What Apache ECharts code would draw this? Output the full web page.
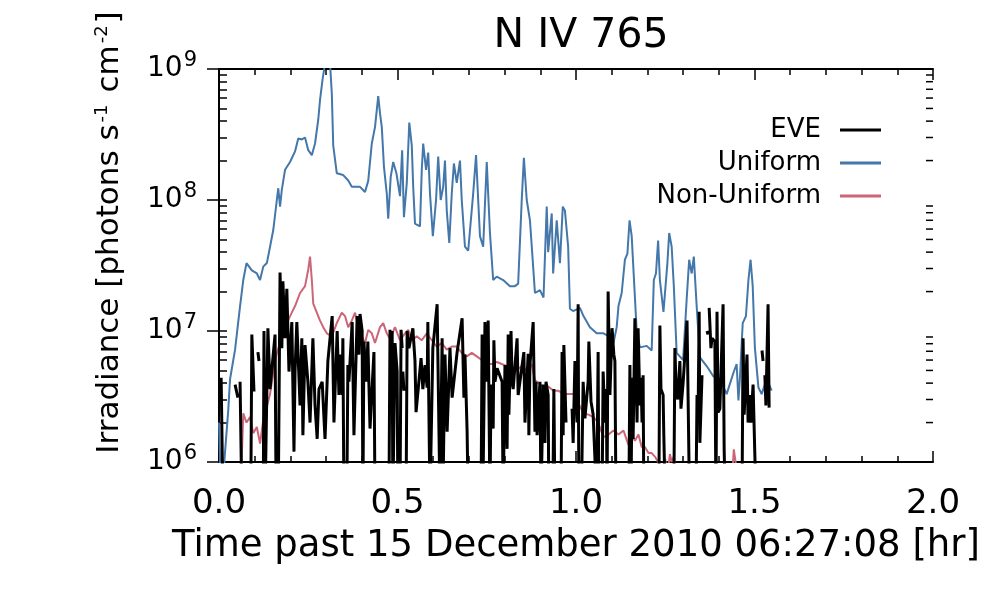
<!DOCTYPE html>
<html>
<head>
<meta charset="utf-8">
<script src="https://cdn.jsdelivr.net/npm/echarts@6/dist/echarts.min.js"></script>
<style>
	html, body { margin: 0; padding: 0; background: #fff; }
	#chart { width: 1000px; height: 600px; }
</style>
</head>
<body>
<div id="chart"></div>
<script>
// values: [hour, irradiance]
// below 1e6 = under the axis floor, null = missing sample
const uniformData = [
	[0.000, 2.0e6], [0.004, 8e5], [0.012, 8e5], [0.026, 2.5e6], [0.031, 4.3e6], [0.045, 7.2e6],
	[0.059, 1.55e7], [0.068, 2.45e7], [0.077, 3.3e7], [0.092, 2.9e7], [0.106, 2.75e7], [0.115, 2.45e7],
	[0.124, 3.1e7], [0.134, 3.3e7], [0.143, 4.4e7], [0.152, 5.9e7], [0.162, 1.0e8], [0.166, 1.23e8],
	[0.171, 8.9e7], [0.176, 1.2e8], [0.185, 1.7e8], [0.199, 1.95e8], [0.213, 2.35e8], [0.222, 2.95e8],
	[0.232, 2.9e8], [0.241, 3.0e8], [0.250, 2.4e8], [0.260, 2.2e8], [0.269, 2.7e8], [0.278, 4.1e8],
	[0.283, 5.8e8], [0.290, 8.3e8], [0.297, 1.1e9], [0.311, 1.1e9], [0.316, 6.5e8], [0.320, 2.6e8],
	[0.330, 1.6e8], [0.348, 1.55e8], [0.362, 1.41e8], [0.372, 1.26e8], [0.395, 1.26e8], [0.409, 1.15e8],
	[0.418, 1.4e8], [0.428, 2.7e8], [0.437, 3.6e8], [0.446, 6.2e8], [0.451, 4.6e8], [0.456, 3.6e8],
	[0.462, 1.8e8], [0.470, 1.12e8], [0.474, 7.2e7], [0.481, 1.5e8], [0.488, 1.95e8], [0.497, 1.6e8],
	[0.507, 1.07e8], [0.513, 2.4e8], [0.518, 7.4e7], [0.526, 1.35e8], [0.533, 3.9e8], [0.540, 2.6e8],
	[0.544, 1.26e8], [0.549, 6.6e7], [0.563, 6.3e7], [0.568, 1.7e8], [0.572, 2.7e8], [0.580, 1.7e8],
	[0.586, 2.3e8], [0.591, 1.12e8], [0.599, 5.3e7], [0.608, 1.0e8], [0.614, 2.15e8], [0.621, 1.0e8],
	[0.628, 1.26e8], [0.633, 2.0e8], [0.638, 8.3e7], [0.645, 4.7e7], [0.652, 1.12e8], [0.658, 1.9e8],
	[0.666, 1.35e8], [0.675, 2.0e8], [0.680, 1.0e8], [0.689, 4.4e7], [0.698, 4.1e7], [0.712, 1.12e8],
	[0.720, 2.2e8], [0.726, 1.0e8], [0.731, 5.3e7], [0.740, 4.4e7], [0.750, 1.95e8], [0.759, 5.6e7],
	[0.768, 2.45e7], [0.778, 2.6e7], [0.796, 2.45e7], [0.815, 2.2e7], [0.829, 2.2e7], [0.838, 2.3e7],
	[0.848, 1.0e8], [0.854, 2.1e8], [0.862, 1.0e8], [0.871, 7.0e7], [0.880, 3.1e7], [0.885, 1.95e7],
	[0.899, 2.05e7], [0.909, 1.8e7], [0.918, 8.9e7], [0.922, 4.0e7], [0.932, 7.9e7], [0.936, 2.75e7],
	[0.946, 7.0e7], [0.955, 3.3e7], [0.963, 8.9e7], [0.969, 8.3e7], [0.978, 4.4e7], [0.983, 1.48e7],
	[0.992, 1.42e7], [1.011, 1.5e7], [1.021, 1.3e7], [1.039, 1.07e7], [1.058, 9.6e6], [1.077, 9.6e6],
	[1.095, 9.0e6], [1.105, 8.1e6], [1.114, 1.07e7], [1.119, 1.55e7], [1.128, 1.95e7], [1.137, 3.5e7],
	[1.144, 3.9e7], [1.150, 7.0e7], [1.156, 5.3e7], [1.163, 2.3e7], [1.170, 1.0e7], [1.179, 7.5e6],
	[1.198, 7.7e6], [1.212, 7.1e6], [1.218, 2.45e7], [1.224, 2.75e7], [1.230, 4.9e7], [1.235, 2.45e7],
	[1.245, 1.4e7], [1.256, 3.3e7], [1.261, 5.6e7], [1.268, 4.4e7], [1.274, 2.2e7], [1.282, 6.8e6],
	[1.300, 6.0e6], [1.310, 1.75e7], [1.317, 3.5e7], [1.324, 2.75e7], [1.330, 3.7e7], [1.338, 1.55e7],
	[1.347, 6.3e6], [1.366, 5.4e6], [1.385, 4.5e6], [1.403, 4.3e6], [1.422, 3.3e6], [1.441, 4.8e6],
	[1.450, 5.6e6], [1.455, 2.95e6], [1.459, 4.3e6], [1.467, 1.15e7], [1.476, 1.3e7], [1.483, 2.45e7],
	[1.489, 3.5e7], [1.495, 2.2e7], [1.501, 7.5e6], [1.511, 3.7e6], [1.520, 3.3e6], [1.534, 4.3e6],
	[1.548, 3.5e6]
];

const nonUniformData = [
	[0.062, 8e5], [0.068, 2.35e6], [0.077, 2.0e6], [0.087, 2.2e6], [0.096, 1.66e6], [0.106, 1.85e6],
	[0.115, 1.38e6], [0.124, 2.1e6], [0.134, 2.65e6], [0.143, 3.3e6], [0.152, 4.8e6], [0.162, 6.8e6],
	[0.171, 8.1e6], [0.180, 1.15e7], [0.190, 1.15e7], [0.199, 1.3e7], [0.213, 1.55e7], [0.227, 1.95e7],
	[0.241, 2.2e7], [0.250, 2.95e7], [0.255, 3.7e7], [0.260, 2.45e7], [0.264, 1.62e7], [0.274, 1.38e7],
	[0.283, 1.2e7], [0.292, 1.07e7], [0.302, 9.6e6], [0.316, 9.1e6], [0.330, 1.15e7], [0.344, 1.38e7],
	[0.353, 1.3e7], [0.362, 1.07e7], [0.372, 1.2e7], [0.381, 1.38e7], [0.390, 1.07e7], [0.400, 9.1e6],
	[0.409, 8.1e6], [0.418, 1.02e7], [0.428, 9.6e6], [0.437, 8.1e6], [0.451, 1.07e7], [0.460, 1.15e7],
	[0.470, 9.6e6], [0.479, 8.7e6], [0.493, 1.07e7], [0.507, 8.5e6], [0.521, 9.6e6], [0.530, 1.02e7],
	[0.540, 8.5e6], [0.554, 9.1e6], [0.568, 8.5e6], [0.582, 9.6e6], [0.596, 8.5e6], [0.610, 7.6e6],
	[0.624, 8.1e6], [0.638, 7.2e6], [0.652, 7.6e6], [0.666, 7.6e6], [0.680, 6.8e6], [0.694, 6.4e6],
	[0.708, 6.8e6], [0.722, 6.4e6], [0.736, 6.0e6], [0.750, 5.6e6], [0.764, 5.6e6], [0.778, 5.8e6],
	[0.792, 5.6e6], [0.806, 5.4e6], [0.820, 4.8e6], [0.834, 5.0e6], [0.848, 5.4e6], [0.862, 5.0e6],
	[0.876, 5.6e6], [0.885, 4.2e6], [0.895, 4.0e6], [0.908, 3.75e6], [0.923, 3.75e6], [0.937, 3.5e6],
	[0.951, 3.5e6], [0.965, 3.3e6], [0.979, 3.3e6], [0.993, 3.3e6], [1.007, 2.8e6], [1.021, 2.35e6],
	[1.035, 2.3e6], [1.049, 2.2e6], [1.062, 2.0e6], [1.077, 1.55e6], [1.091, 1.62e6], [1.105, 1.74e6],
	[1.119, 1.62e6], [1.133, 1.74e6], [1.147, 1.35e6], [1.156, 1.62e6], [1.165, 1.45e6], [1.175, 1.62e6],
	[1.184, 1.3e6], [1.193, 1.3e6], [1.203, 1.17e6], [1.212, 1.17e6], [1.221, 1.1e6], [1.230, 1.0e6],
	[1.240, 8e5], [1.250, 1.05e6], [1.256, 8e5], [1.263, 1.15e6], [1.268, 1.0e6], [1.274, 1.1e6],
	[1.280, 8e5], [1.300, 7e5], [1.350, 6e5], [1.420, 7e5], [1.438, 8e5], [1.442, 1.25e6],
	[1.447, 1.0e6], [1.452, 7e5], [1.500, 6e5]
];

const eveData = [
	[0.006, 4.4e6], [0.011, 5e5], [0.030, null], [0.045, 3.9e6], [0.053, 3.1e6], [0.056, null],
	[0.059, 4.1e6], [0.064, 5e5], [0.089, 5e5], [0.092, 9.4e6], [0.098, 3.45e6], [0.103, null],
	[0.109, 6.9e6], [0.112, 5.9e6], [0.116, null], [0.124, 5e5], [0.126, 1.0e7], [0.129, 5e5],
	[0.134, 5e5], [0.137, 1.05e7], [0.143, 3.6e6], [0.157, 9.4e6], [0.160, 5e5], [0.166, 5e5],
	[0.171, 2.8e7], [0.176, 7.4e6], [0.179, 2.4e7], [0.185, 8.8e6], [0.190, 2.1e7], [0.196, 4.9e6],
	[0.204, 1.17e7], [0.210, 1.2e6], [0.213, 4.9e6], [0.218, 1.17e7], [0.227, 2.7e6], [0.232, 8.8e6],
	[0.235, 1.6e6], [0.241, 7.8e6], [0.249, 4.1e6], [0.255, 2.0e6], [0.263, 8.8e6], [0.269, 2.7e6],
	[0.275, 1.5e6], [0.280, 3.6e6], [0.289, 4.1e6], [0.297, 1.5e6], [0.305, 5.9e6], [0.317, 1.3e7],
	[0.322, 2.0e6], [0.331, 1.0e7], [0.336, 3.25e6], [0.339, 6.6e6], [0.345, 3.25e6], [0.347, 8.8e6],
	[0.350, 5e5], [0.358, 5e5], [0.361, 5.5e6], [0.364, 4.1e6], [0.373, 1.17e7], [0.378, 1.6e6],
	[0.387, 1.3e7], [0.392, 6.6e6], [0.395, 1.35e7], [0.401, 1.0e7], [0.403, 5e5], [0.404, 5e5],
	[0.406, 8.3e6], [0.412, 4.1e6], [0.417, 8.3e6], [0.423, 1.8e6], [0.434, 6.9e6], [0.437, 5e5],
	[0.476, 5e5], [0.479, 1.02e7], [0.482, 4.1e6], [0.485, 1.0e7], [0.487, 5e5], [0.490, 5e5],
	[0.493, 8.1e6], [0.499, 4.9e6], [0.501, 5e5], [0.507, 5e5], [0.510, 1.02e7], [0.513, 7.4e6],
	[0.514, null], [0.515, 4.9e6], [0.518, 3.5e6], [0.520, null], [0.524, 5e5], [0.527, 1.0e7],
	[0.532, 7.4e6], [0.543, 1.05e7], [0.549, 5.9e6], [0.552, 2.4e6], [0.566, 6.2e6], [0.571, 3.6e6],
	[0.577, 5.5e6], [0.583, 3.7e6], [0.585, 1.17e7], [0.591, 5e5], [0.596, 5e5], [0.599, 7.4e6],
	[0.611, 1.6e7], [0.613, 6.6e6], [0.619, 5e5], [0.622, 5e5], [0.625, 8.8e6], [0.627, 5e5],
	[0.630, 5e5], [0.633, 6.6e6], [0.639, 1.7e6], [0.647, 7.4e6], [0.653, 3.1e6], [0.661, 4.9e6],
	[0.667, 6.9e6], [0.681, 1.25e7], [0.686, 3.1e6], [0.689, 6.6e6], [0.695, 1.7e6], [0.698, 5e5],
	[0.734, 5e5], [0.737, 9.4e6], [0.739, 5e5], [0.742, 5e5], [0.745, 1.17e7], [0.748, 4.1e6],
	[0.754, 1.2e7], [0.759, 5e5], [0.762, 3.9e6], [0.768, 1.8e6], [0.770, 8.5e6], [0.773, 4.1e6],
	[0.779, 5.2e6], [0.793, 4.1e6], [0.796, 5e5], [0.799, 5e5], [0.801, 5.5e6], [0.807, 1.26e6],
	[0.810, 9.4e6], [0.812, 2.3e6], [0.818, 1.0e7], [0.821, 4.1e6], [0.824, 3.6e6], [0.835, 8.8e6],
	[0.838, 3.25e6], [0.843, 3.25e6], [0.854, 6.9e6], [0.857, 2.0e6], [0.866, 6.7e6], [0.868, 1.6e6],
	[0.871, 5.5e6], [0.880, 1.17e7], [0.885, 1.7e6], [0.888, 4.1e6], [0.891, 1.6e6], [0.899, 4.1e6],
	[0.902, 5e5], [0.905, 5e5], [0.908, 3.9e6], [0.913, 1.4e6], [0.916, 4.1e6], [0.922, 3.25e6],
	[0.924, 5e5], [0.935, 5e5], [0.938, 3.6e6], [0.941, 5e5], [0.958, 5e5], [0.961, 6.9e6],
	[0.964, 1.6e6], [0.966, 7.8e6], [0.969, 7.8e6], [0.972, 2.0e6], [0.975, null], [0.978, 2.4e6],
	[0.980, null], [0.989, 2.55e6], [0.992, 1.4e6], [0.997, 5.9e6], [1.003, 2.0e6], [1.006, 1.6e7],
	[1.008, 5e5], [1.015, 5e5], [1.020, 4.1e6], [1.025, 2.15e6], [1.034, 4.1e6], [1.036, 8.3e6],
	[1.042, 2.9e6], [1.048, 2.3e6], [1.058, 5e5], [1.062, 6.9e6], [1.064, 5e5], [1.073, 5e5],
	[1.076, 4.9e6], [1.081, 2.0e6], [1.085, 3.6e6], [1.087, 5e5], [1.088, 5e5], [1.090, 2.0e7],
	[1.095, 3.25e6], [1.101, 1.05e7], [1.106, 6.6e6], [1.109, 5.9e6], [1.112, 5e5], [1.148, 5e5],
	[1.151, 5.5e6], [1.154, 5e5], [1.157, 4.4e6], [1.160, 1.5e6], [1.165, 1.25e7], [1.171, 2.0e6],
	[1.174, 1.05e7], [1.179, 2.7e6], [1.182, 4.4e6], [1.185, 2.0e6], [1.188, 4.6e6], [1.190, 5e5],
	[1.232, 5e5], [1.235, 1.1e7], [1.238, 3.6e6], [1.244, 3.25e6], [1.246, 1.6e6], [1.250, 5e5],
	[1.274, 5e5], [1.277, 7.4e6], [1.280, 4.1e6], [1.285, 3.0e6], [1.291, 5.9e6], [1.294, 2.55e6],
	[1.300, 4.0e6], [1.311, 1.2e7], [1.314, 3.1e6], [1.318, 5e5], [1.336, 5e5], [1.339, 3.25e6],
	[1.342, 2.3e6], [1.345, 1.4e7], [1.347, 1.4e6], [1.353, 4.6e6], [1.358, null], [1.367, 1.0e7],
	[1.370, 9.4e6], [1.371, null], [1.373, 1.5e7], [1.378, 7.4e6], [1.381, 8.8e6], [1.389, 8.3e6],
	[1.392, 5e5], [1.393, 5e5], [1.395, 1.4e7], [1.398, 2.4e6], [1.403, 2.55e6], [1.412, 1.6e7],
	[1.415, 1.26e6], [1.418, 5e5], [1.465, 5e5], [1.468, 8.8e6], [1.471, 2.3e6], [1.479, 6.6e6],
	[1.482, 2.0e6], [1.487, 3.25e6], [1.490, 2.0e6], [1.496, 3.9e6], [1.501, 1.12e6], [1.505, 5e5],
	[1.515, null], [1.521, 7.1e6], [1.524, 5.9e6], [1.526, null], [1.529, 4.6e6], [1.532, 2.7e6],
	[1.538, 1.6e7], [1.541, 2.6e6]
];

const seriesNames = ['EVE', 'Uniform', 'Non-Uniform'];
const seriesColors = ['#000000', '#4477aa', '#cc6677'];

const xMin = 0, xMax = 2.0, xStep = 0.5;
const yMin = 1e6, yMax = 1e9;
const yDecades = [1e6, 1e7, 1e8, 1e9];
const yMinorTicks = [
	2e6, 3e6, 4e6, 5e6, 6e6, 7e6, 8e6, 9e6,
	2e7, 3e7, 4e7, 5e7, 6e7, 7e7, 8e7, 9e7,
	2e8, 3e8, 4e8, 5e8, 6e8, 7e8, 8e8, 9e8
];

const FONT = '"DejaVu Sans", sans-serif';

let myChart = echarts.init(document.getElementById('chart'));

const axisLine = { show: true, lineStyle: { color: '#000', width: 2 } };
const tickStyle = { color: '#000', width: 1.5 };

// minor log ticks on the right frame edge
let rightMinorTicks = {
	type: 'custom',
	data: yMinorTicks.map(v => [xMax, v]),
	encode: { x: 0, y: 1 },
	renderItem: function(params, api) {
		let p = api.coord([api.value(0), api.value(1)]);
		return {
			type: 'line',
			shape: { x1: p[0], y1: p[1], x2: p[0] - 7, y2: p[1] },
			style: { stroke: '#000', lineWidth: 1.5 }
		};
	},
	z: 10
};

let option = {
	animation: false,
	backgroundColor: '#fff',
	textStyle: { fontFamily: FONT, color: '#000' },
	title: {
		text: 'N IV 765',
		left: 576,
		textAlign: 'center',
		top: 11,
		textStyle: { fontFamily: FONT, fontSize: 41, fontWeight: 'normal', color: '#000' }
	},
	legend: {
		data: seriesNames,
		orient: 'vertical',
		align: 'right',
		right: 114,
		top: 112,
		icon: 'rect',
		itemWidth: 41,
		itemHeight: 3,
		itemGap: 7,
		textStyle: { fontFamily: FONT, fontSize: 26, color: '#000', padding: [0, 14, 0, 0] }
	},
	grid: { left: 219, right: 67, top: 69, bottom: 138 },
	xAxis: [{
		type: 'value',
		min: xMin, max: xMax, interval: xStep,
		name: 'Time past 15 December 2010 06:27:08 [hr]',
		nameLocation: 'middle',
		nameGap: 66,
		nameTextStyle: { fontFamily: FONT, fontSize: 37, color: '#000' },
		axisLine: axisLine,
		axisTick: { show: true, inside: true, length: 11, lineStyle: tickStyle },
		minorTick: { show: true, splitNumber: 5, length: 6, lineStyle: tickStyle },
		axisLabel: {
			margin: 25, fontFamily: FONT, fontSize: 34, color: '#000',
			formatter: v => v.toFixed(1)
		},
		splitLine: { show: false }
	}, {
		type: 'value',
		position: 'top',
		min: xMin, max: xMax, interval: xStep,
		axisLine: axisLine,
		axisTick: { show: true, inside: true, length: 11, lineStyle: tickStyle },
		minorTick: { show: true, splitNumber: 5, length: 6, lineStyle: tickStyle },
		axisLabel: { show: false },
		splitLine: { show: false }
	}],
	yAxis: [{
		type: 'log',
		logBase: 10,
		min: yMin, max: yMax,
		name: '{n|Irradiance [photons s}{s|-1}{n| cm}{s|-2}{n|]}',
		nameLocation: 'middle',
		nameGap: 92,
		nameTextStyle: {
			padding: [0, 0, 0, 66],
			rich: {
				n: { fontFamily: FONT, fontSize: 31, color: '#000' },
				s: { fontFamily: FONT, fontSize: 18, color: '#000', verticalAlign: 'top', padding: [0, 2, 16, 2] }
			}
		},
		axisLine: axisLine,
		// decades and minor values as the axis's own ticks on the left edge
		axisTick: {
			show: true, inside: true, length: 8, lineStyle: tickStyle,
			customValues: yDecades.concat(yMinorTicks)
		},
		axisLabel: {
			margin: 22,
			customValues: yDecades,
			formatter: v => '{b|10}{s|' + Math.round(Math.log10(v)) + '}',
			rich: {
				b: { fontFamily: FONT, fontSize: 28, color: '#000' },
				s: { fontFamily: FONT, fontSize: 21, color: '#000', verticalAlign: 'top', padding: [0, 0, 16, 1] }
			}
		},
		splitLine: { show: false }
	}, {
		type: 'log',
		logBase: 10,
		min: yMin, max: yMax,
		position: 'right',
		axisLine: axisLine,
		axisTick: { show: true, inside: true, length: 12, lineStyle: tickStyle },
		axisLabel: { show: false },
		splitLine: { show: false }
	}],
	series: [{
		name: 'Uniform',
		type: 'line',
		data: uniformData,
		showSymbol: false,
		color: seriesColors[1],
		lineStyle: { width: 2 },
		clip: true,
		z: 2
	}, {
		name: 'Non-Uniform',
		type: 'line',
		data: nonUniformData,
		showSymbol: false,
		color: seriesColors[2],
		lineStyle: { width: 2 },
		clip: true,
		z: 3
	}, {
		name: 'EVE',
		type: 'line',
		data: eveData,
		showSymbol: false,
		connectNulls: false,
		color: seriesColors[0],
		lineStyle: { width: 3 },
		clip: true,
		z: 4
	},
	rightMinorTicks
	]
};

option && myChart.setOption(option);
</script>
</body>
</html>
